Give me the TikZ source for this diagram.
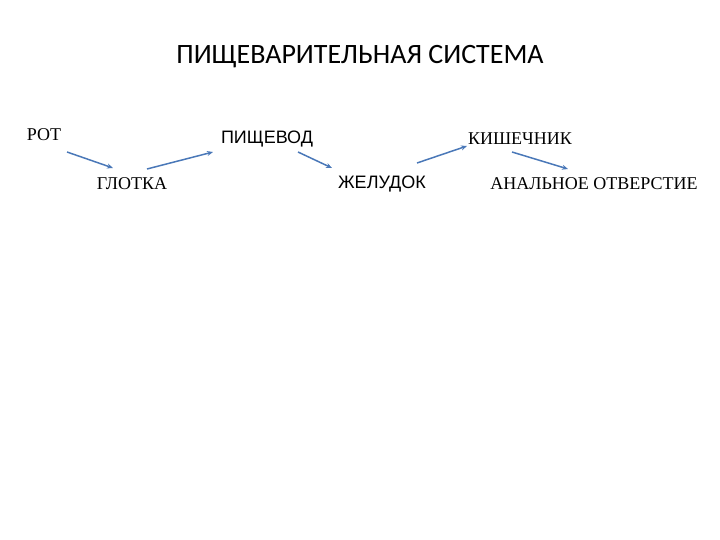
\documentclass[tikz,border=0pt]{standalone}
\usepackage{fontspec}
\setmainfont{Liberation Serif}
\newfontfamily\titlefont{Carlito}
\newfontfamily\arialfont{Liberation Sans}
\usetikzlibrary{arrows.meta}
\definecolor{arrowblue}{RGB}{74,120,184}
\tikzset{
  x=1pt,y=-1pt,
  serifnode/.style={inner sep=0pt,font=\fontsize{18}{21}\selectfont},
  sansnode/.style={inner sep=0pt,font=\arialfont\fontsize{18}{21}\selectfont},
  flowarrow/.style={draw=arrowblue,line width=1.5pt,-{Stealth[length=6pt,width=5pt]}}
}
\begin{document}
\begin{tikzpicture}
\useasboundingbox (0,0) rectangle (720,540);
\node[inner sep=0pt,font=\titlefont\fontsize{28}{32}\selectfont] (title) at (360,57) {ПИЩЕВАРИТЕЛЬНАЯ СИСТЕМА};
\node[serifnode] (rot) at (44,135) {РОТ};
\node[serifnode] (glotka) at (132,184) {ГЛОТКА};
\node[sansnode] (pishevod) at (267,139) {ПИЩЕВОД};
\node[sansnode] (zheludok) at (382,184) {ЖЕЛУДОК};
\node[serifnode] (kishechnik) at (520,139) {КИШЕЧНИК};
\node[serifnode] (anal) at (594,184) {АНАЛЬНОЕ ОТВЕРСТИЕ};
\coordinate (a1s) at (67,152); \coordinate (a1e) at (113,168);
\coordinate (a2s) at (147,169); \coordinate (a2e) at (213,152);
\coordinate (a3s) at (298,152); \coordinate (a3e) at (332,168);
\coordinate (a4s) at (417,163); \coordinate (a4e) at (467,146);
\coordinate (a5s) at (512,152); \coordinate (a5e) at (568,169);
\draw[flowarrow] (a1s) -- (a1e);
\draw[flowarrow] (a2s) -- (a2e);
\draw[flowarrow] (a3s) -- (a3e);
\draw[flowarrow] (a4s) -- (a4e);
\draw[flowarrow] (a5s) -- (a5e);
\end{tikzpicture}
\end{document}
